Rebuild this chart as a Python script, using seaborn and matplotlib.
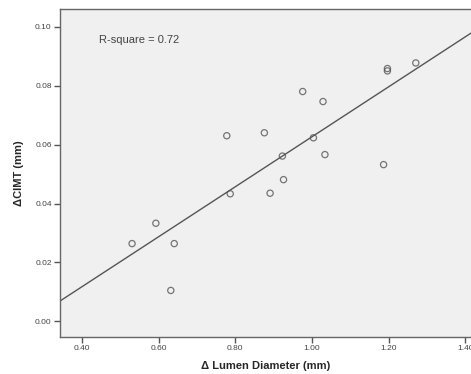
import numpy as np
import pandas as pd
import matplotlib
matplotlib.use('Agg')
import matplotlib.pyplot as plt
import seaborn as sns

# values
lumen_diameter = [0.976, 1.029, 1.197, 1.197, 1.271, 0.876, 1.004, 0.923, 1.034,
                  1.187, 0.926, 0.778, 0.787, 0.593, 0.531, 0.641, 0.632, 0.891]
cimt = [0.0780, 0.0746, 0.0858, 0.0850, 0.0877, 0.0640, 0.0623, 0.0561, 0.0566,
        0.0532, 0.0481, 0.0630, 0.0433, 0.0333, 0.0264, 0.0264, 0.0105, 0.0435]
x_ticks = [0.40, 0.60, 0.80, 1.00, 1.20, 1.40]
y_ticks = [0.00, 0.02, 0.04, 0.06, 0.08, 0.10]

df = pd.DataFrame({'lumen': lumen_diameter, 'cimt': cimt})

sns.set_style('white')
plt.rcParams['font.family'] = ['Liberation Sans', 'DejaVu Sans']

fig = plt.figure(figsize=(4.71, 3.74), dpi=100)
ax = fig.add_axes([0.1274, 0.0989, 0.8726, 0.877])
ax.set_facecolor('#f0f0f0')
ax.set_xlim(0.343, 1.415)
ax.set_ylim(-0.0053, 0.106)

sns.regplot(data=df, x='lumen', y='cimt', ax=ax, ci=None, truncate=False,
            scatter_kws=dict(s=20, facecolors='none', edgecolors='#555555', linewidths=0.9),
            line_kws=dict(color='#555555', lw=1.0))

r2 = np.corrcoef(df['lumen'], df['cimt'])[0, 1] ** 2
ax.text(0.445, 0.0954, "R-square = 0.72", fontsize=8, color='#444444', va='center')

ax.set_xticks(x_ticks)
ax.set_xticklabels([f"{t:.2f}" for t in x_ticks])
ax.set_yticks(y_ticks)
ax.set_yticklabels([f"{t:.2f}" for t in y_ticks])
ax.tick_params(axis='both', direction='out', length=4, width=1, color='#555555',
               labelsize=6, labelcolor='#444444', pad=2)
ax.tick_params(bottom=True, left=True)

for side in ['left', 'bottom', 'top']:
    ax.spines[side].set_color('#666666')
    ax.spines[side].set_linewidth(1.0)
ax.spines['right'].set_visible(False)

ax.set_xlabel("\u0394 Lumen Diameter (mm)", fontsize=8, fontweight='bold', labelpad=6)
ax.set_ylabel("\u0394CIMT (mm)", fontsize=8, fontweight='bold', labelpad=8)

fig.savefig('out.png', dpi=100, facecolor='white')
